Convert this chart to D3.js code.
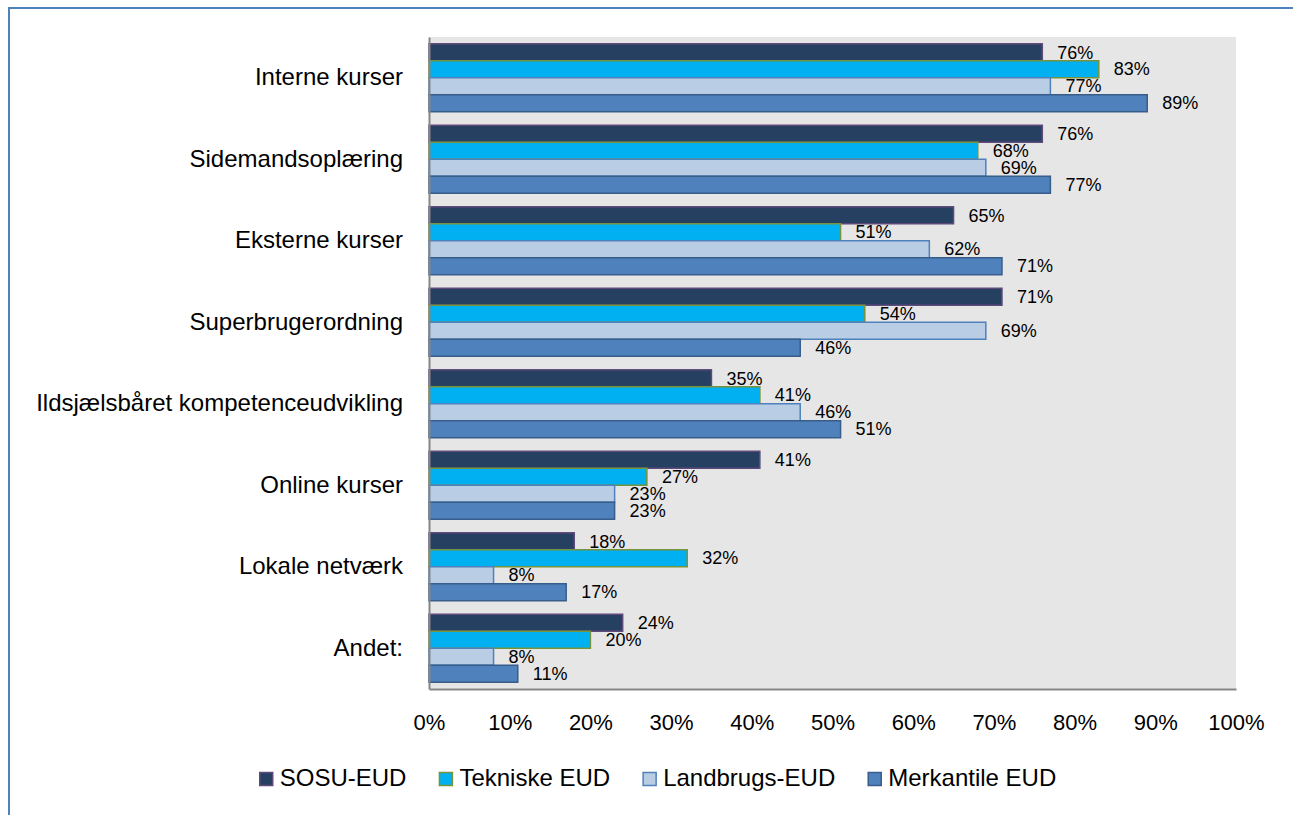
<!DOCTYPE html>
<html>
<head>
<meta charset="utf-8">
<script src="https://cdn.jsdelivr.net/npm/d3@7"></script>
<style>
  html, body { margin: 0; padding: 0; background: #fff; }
  svg { display: block; }
  text { font-family: "Liberation Sans", Arial, sans-serif; fill: #000; }
</style>
</head>
<body>
<svg id="chart" width="1293" height="815"></svg>
<script>
// Survey answers: share of respondents per type of competence development
const categories = [
  "Interne kurser",
  "Sidemandsoplæring",
  "Eksterne kurser",
  "Superbrugerordning",
  "Ildsjælsbåret kompetenceudvikling",
  "Online kurser",
  "Lokale netværk",
  "Andet:"
];
const seriesNames = ["SOSU-EUD", "Tekniske EUD", "Landbrugs-EUD", "Merkantile EUD"];
const sosu       = [76, 76, 65, 71, 35, 41, 18, 24];
const tekniske   = [83, 68, 51, 54, 41, 27, 32, 20];
const landbrugs  = [77, 69, 62, 69, 46, 23, 8, 8];
const merkantile = [89, 77, 71, 46, 51, 23, 17, 11];
const xTicks = [0, 10, 20, 30, 40, 50, 60, 70, 80, 90, 100];

const seriesValues = [sosu, tekniske, landbrugs, merkantile];
const fills   = ["#254061", "#00b0f0", "#b9cde5", "#4f81bd"];
const strokes = ["#604a7b", "#77933c", "#4f81bd", "#385d8a"];

const svg = d3.select("#chart");

// outer frame
svg.append("rect")
  .attr("x", 9).attr("y", 8).attr("width", 1400).attr("height", 900)
  .attr("fill", "none").attr("stroke", "#4f81bd").attr("stroke-width", 2);

const plot = { left: 429, right: 1236, top: 37, bottom: 689 };

const x = d3.scaleLinear().domain([0, 100]).range([plot.left, plot.right]);
const y = d3.scaleBand().domain(categories).range([plot.top, plot.bottom])
  .paddingInner(0.166).paddingOuter(0.083);
const ySub = d3.scaleBand().domain(d3.range(seriesNames.length)).range([0, y.bandwidth()]);

// plot background
svg.append("rect")
  .attr("x", plot.left).attr("y", plot.top)
  .attr("width", plot.right - plot.left).attr("height", plot.bottom - plot.top)
  .attr("fill", "#e6e6e6");

// bars
const groups = svg.append("g").selectAll("g")
  .data(categories).join("g")
  .attr("transform", c => `translate(0,${y(c)})`);

seriesValues.forEach((vals, s) => {
  groups.append("rect")
    .attr("x", x(0))
    .attr("y", ySub(s))
    .attr("width", (c, i) => x(vals[i]) - x(0))
    .attr("height", ySub.bandwidth())
    .attr("fill", fills[s])
    .attr("stroke", strokes[s])
    .attr("stroke-width", 1.5);
});

// value labels
seriesValues.forEach((vals, s) => {
  groups.append("text")
    .attr("x", (c, i) => x(vals[i]) + 15)
    .attr("y", ySub(s) + ySub.bandwidth() / 2 + 1.5)
    .attr("dominant-baseline", "middle")
    .attr("font-size", 18)
    .text((c, i) => vals[i] + "%");
});

// axes
const yAxis = svg.append("g")
  .attr("transform", `translate(${plot.left},0)`)
  .call(d3.axisLeft(y).tickSize(0).tickPadding(26));
yAxis.select(".domain").attr("stroke", "#868686").attr("stroke-width", 2);
yAxis.selectAll("text").attr("font-size", 24).attr("fill", "#000")
  .style("font-family", '"Liberation Sans", Arial, sans-serif');

const xAxis = svg.append("g")
  .attr("transform", `translate(0,${plot.bottom})`)
  .call(d3.axisBottom(x).tickValues(xTicks).tickSize(0).tickFormat(d => d + "%"));
xAxis.select(".domain").attr("stroke", "#868686").attr("stroke-width", 2);
xAxis.selectAll("text").attr("font-size", 22).attr("fill", "#000")
  .attr("y", 35).attr("dy", null).attr("dominant-baseline", "middle")
  .style("font-family", '"Liberation Sans", Arial, sans-serif');

// legend
const legend = svg.append("g");
const gap = 33;
let lx = 0;
seriesNames.forEach((name, s) => {
  const g = legend.append("g").attr("transform", `translate(${lx},0)`);
  g.append("rect").attr("x", 0).attr("y", -6.5).attr("width", 13).attr("height", 13)
    .attr("fill", fills[s]).attr("stroke", strokes[s]).attr("stroke-width", 1.5);
  const t = g.append("text").attr("x", 20).attr("y", 1)
    .attr("dominant-baseline", "middle").attr("font-size", 24).text(name);
  lx += 20 + t.node().getComputedTextLength() + gap;
});
lx -= gap;
legend.attr("transform", `translate(${658 - lx / 2},779)`);
</script>
</body>
</html>
